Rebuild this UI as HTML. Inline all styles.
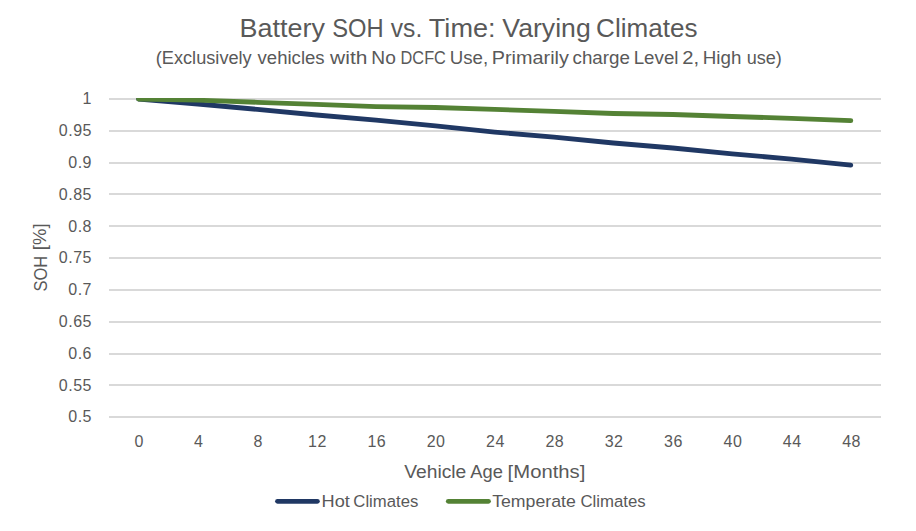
<!DOCTYPE html>
<html><head><meta charset="utf-8"><title>Battery SOH vs. Time: Varying Climates</title><style>
html,body{margin:0;padding:0;background:#fff;width:916px;height:531px;overflow:hidden}
svg{display:block}
text{font-family:"Liberation Sans",sans-serif;fill:#595959}
</style></head><body>
<svg width="916" height="531" viewBox="0 0 916 531">
<rect width="916" height="531" fill="#fff"/>
<text x="239.54" y="36.6" font-size="25.3" textLength="85.39" lengthAdjust="spacingAndGlyphs">Battery</text><text x="332.23" y="36.6" font-size="25.3" textLength="51.42" lengthAdjust="spacingAndGlyphs">SOH</text><text x="390.78" y="36.6" font-size="25.3" textLength="31.49" lengthAdjust="spacingAndGlyphs">vs.</text><text x="428.83" y="36.6" font-size="25.3" textLength="66.74" lengthAdjust="spacingAndGlyphs">Time:</text><text x="502.37" y="36.6" font-size="25.3" textLength="88.37" lengthAdjust="spacingAndGlyphs">Varying</text><text x="596.11" y="36.6" font-size="25.3" textLength="101.32" lengthAdjust="spacingAndGlyphs">Climates</text>
<text x="155.81" y="63.8" font-size="18.75" textLength="95.89" lengthAdjust="spacingAndGlyphs">(Exclusively</text><text x="257.58" y="63.8" font-size="18.75" textLength="67.03" lengthAdjust="spacingAndGlyphs">vehicles</text><text x="330.1" y="63.8" font-size="18.75" textLength="37.26" lengthAdjust="spacingAndGlyphs">with</text><text x="371.37" y="63.8" font-size="18.75" textLength="24.5" lengthAdjust="spacingAndGlyphs">No</text><text x="400.59" y="63.8" font-size="18.75" textLength="45.32" lengthAdjust="spacingAndGlyphs">DCFC</text><text x="449.81" y="63.8" font-size="18.75" textLength="38.36" lengthAdjust="spacingAndGlyphs">Use,</text><text x="491.82" y="63.8" font-size="18.75" textLength="77.03" lengthAdjust="spacingAndGlyphs">Primarily</text><text x="572.55" y="63.8" font-size="18.75" textLength="57.38" lengthAdjust="spacingAndGlyphs">charge</text><text x="633.7" y="63.8" font-size="18.75" textLength="44.8" lengthAdjust="spacingAndGlyphs">Level</text><text x="682.32" y="63.8" font-size="18.75" textLength="16.84" lengthAdjust="spacingAndGlyphs">2,</text><text x="702.8" y="63.8" font-size="18.75" textLength="38.59" lengthAdjust="spacingAndGlyphs">High</text><text x="746.69" y="63.8" font-size="18.75" textLength="35.19" lengthAdjust="spacingAndGlyphs">use)</text>
<rect x="109" y="98" width="772" height="2" fill="#d9d9d9"/><rect x="109" y="130" width="772" height="2" fill="#d9d9d9"/><rect x="109" y="162" width="772" height="2" fill="#d9d9d9"/><rect x="109" y="193" width="772" height="2" fill="#d9d9d9"/><rect x="109" y="225" width="772" height="2" fill="#d9d9d9"/><rect x="109" y="257" width="772" height="2" fill="#d9d9d9"/><rect x="109" y="289" width="772" height="2" fill="#d9d9d9"/><rect x="109" y="321" width="772" height="2" fill="#d9d9d9"/><rect x="109" y="353" width="772" height="2" fill="#d9d9d9"/><rect x="109" y="384" width="772" height="2" fill="#d9d9d9"/><rect x="109" y="416" width="772" height="2" fill="#d9d9d9"/>
<g font-size="16" letter-spacing="0.5"><text x="92" y="104.3" text-anchor="end">1</text><text x="92" y="136.1" text-anchor="end">0.95</text><text x="92" y="167.9" text-anchor="end">0.9</text><text x="92" y="199.7" text-anchor="end">0.85</text><text x="92" y="231.5" text-anchor="end">0.8</text><text x="92" y="263.3" text-anchor="end">0.75</text><text x="92" y="295.1" text-anchor="end">0.7</text><text x="92" y="326.9" text-anchor="end">0.65</text><text x="92" y="358.7" text-anchor="end">0.6</text><text x="92" y="390.5" text-anchor="end">0.55</text><text x="92" y="422.3" text-anchor="end">0.5</text><text x="139.3" y="447" text-anchor="middle">0</text><text x="198.7" y="447" text-anchor="middle">4</text><text x="258.1" y="447" text-anchor="middle">8</text><text x="317.4" y="447" text-anchor="middle">12</text><text x="376.8" y="447" text-anchor="middle">16</text><text x="436.1" y="447" text-anchor="middle">20</text><text x="495.5" y="447" text-anchor="middle">24</text><text x="554.8" y="447" text-anchor="middle">28</text><text x="614.1" y="447" text-anchor="middle">32</text><text x="673.5" y="447" text-anchor="middle">36</text><text x="732.9" y="447" text-anchor="middle">40</text><text x="792.2" y="447" text-anchor="middle">44</text><text x="851.6" y="447" text-anchor="middle">48</text></g>
<g transform="translate(46.9,0) rotate(-90)"><text x="-291.57" y="0" font-size="18.75" textLength="35.69" lengthAdjust="spacingAndGlyphs">SOH</text></g><g transform="translate(45.9,0) rotate(-90)"><text x="-250.15" y="0" font-size="18.75" textLength="26.68" lengthAdjust="spacingAndGlyphs">[%]</text></g>
<text x="404.27" y="477.8" font-size="18.9" textLength="62.06" lengthAdjust="spacingAndGlyphs">Vehicle</text><text x="470.28" y="477.8" font-size="18.9" textLength="32.57" lengthAdjust="spacingAndGlyphs">Age</text><text x="507.63" y="477.8" font-size="18.9" textLength="77.72" lengthAdjust="spacingAndGlyphs">[Months]</text>
<defs><clipPath id="pa"><rect x="0" y="98" width="916" height="400"/></clipPath></defs>
<g clip-path="url(#pa)">
<polyline points="138.6,99.0 197.9,104.0 257.3,109.4 316.6,115.0 376.0,120.2 435.4,125.8 494.7,132.1 554.0,137.2 613.4,143.0 672.8,148.0 732.1,153.9 791.5,159.1 850.8,165.1" fill="none" stroke="#203864" stroke-width="4.8" stroke-linejoin="round" stroke-linecap="round"/>
<polyline points="138.6,99.0 197.9,100.2 257.3,102.3 316.6,104.4 376.0,106.6 435.4,107.5 494.7,109.4 554.0,111.4 613.4,113.5 672.8,114.5 732.1,116.5 791.5,118.4 850.8,120.6" fill="none" stroke="#548235" stroke-width="4.8" stroke-linejoin="round" stroke-linecap="round"/>
</g>
<line x1="277.5" y1="501.3" x2="317.4" y2="501.3" stroke="#203864" stroke-width="4.8" stroke-linecap="round"/>
<line x1="448.3" y1="501.3" x2="488.5" y2="501.3" stroke="#548235" stroke-width="4.8" stroke-linecap="round"/>
<text x="321.62" y="506.7" font-size="16.9" textLength="28.26" lengthAdjust="spacingAndGlyphs">Hot</text><text x="353.34" y="506.7" font-size="16.9" textLength="64.96" lengthAdjust="spacingAndGlyphs">Climates</text><text x="492.21" y="506.7" font-size="16.9" textLength="83.54" lengthAdjust="spacingAndGlyphs">Temperate</text><text x="580.43" y="506.7" font-size="16.9" textLength="65.27" lengthAdjust="spacingAndGlyphs">Climates</text>
</svg>
</body></html>
